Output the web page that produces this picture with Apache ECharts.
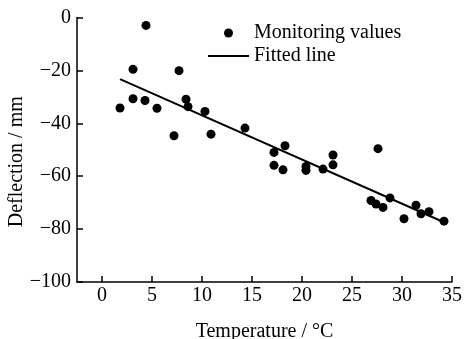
<!DOCTYPE html>
<html>
<head>
<meta charset="utf-8">
<script src="https://cdn.jsdelivr.net/npm/echarts@6/dist/echarts.min.js"></script>
<style>
  html, body { margin: 0; padding: 0; background: #fff; }
  #chart { width: 464px; height: 339px; }
</style>
</head>
<body>
<div id="chart"></div>
<script>
// measured points: temperature (°C) and deflection (mm)
const temperature = [1.8, 3.1, 3.1, 4.3, 4.4, 5.5, 7.2, 7.7, 8.4, 8.6, 10.3, 10.9, 14.3,
  17.2, 17.2, 18.1, 18.3, 20.4, 20.4, 22.1, 23.1, 23.1, 26.9, 27.4, 27.6, 28.1,
  28.8, 30.2, 31.4, 31.9, 32.7, 34.2];
const deflection = [-34.2, -19.6, -30.7, -31.4, -3.0, -34.3, -44.7, -20.1, -30.9, -33.7, -35.5, -44.1, -41.8,
  -51.0, -55.9, -57.6, -48.5, -56.3, -57.8, -57.3, -52.0, -55.7, -69.2, -70.5, -49.6, -71.8,
  -68.2, -76.1, -71.0, -74.2, -73.4, -77.0];
// fitted line end points
const fitX = [1.8, 34.2];
const fitY = [-23.3, -77.4];
const xTicks = [0, 5, 10, 15, 20, 25, 30, 35];

const font = "'Liberation Serif', 'Times New Roman', serif";
const chart = echarts.init(document.getElementById('chart'));

const option = {
  animation: false,
  textStyle: { fontFamily: font, color: '#000' },
  grid: { left: 77, right: 12, top: 17.5, bottom: 57, outerBoundsMode: 'none' },
  legend: {
    orient: 'vertical',
    left: 202,
    top: 18,
    itemWidth: 41,
    itemHeight: 9,
    itemGap: 3,
    textStyle: { fontFamily: font, fontSize: 20, color: '#000' },
    data: [
      { name: 'Monitoring values' },
      { name: 'Fitted line', itemStyle: { opacity: 0 } }
    ]
  },
  xAxis: {
    type: 'value',
    min: -2.5,
    max: 35,
    name: 'Temperature / °C',
    nameLocation: 'middle',
    nameGap: 40,
    nameMoveOverlap: false,
    nameTextStyle: { fontFamily: font, fontSize: 20, color: '#000' },
    splitLine: { show: false },
    axisLine: { show: true, onZero: false, lineStyle: { color: '#000', width: 1.5 } },
    axisTick: { show: true, inside: true, length: 6, customValues: xTicks, lineStyle: { color: '#000', width: 1.5 } },
    axisLabel: { customValues: xTicks, margin: 4, fontFamily: font, fontSize: 20, color: '#000' }
  },
  yAxis: {
    type: 'value',
    min: -100,
    max: 0,
    interval: 20,
    name: 'Deflection / mm',
    nameLocation: 'middle',
    nameGap: 50,
    nameMoveOverlap: false,
    nameTextStyle: { fontFamily: font, fontSize: 20, color: '#000', padding: [0, 24, 0, 0] },
    splitLine: { show: false },
    axisLine: { show: true, onZero: false, lineStyle: { color: '#000', width: 1.5 } },
    axisTick: { show: true, inside: true, length: 6, lineStyle: { color: '#000', width: 1.5 } },
    axisLabel: {
      margin: 6, fontFamily: font, fontSize: 20, color: '#000',
      formatter: v => String(v).replace('-', '\u2212')
    }
  },
  series: [
    {
      name: 'Monitoring values',
      type: 'scatter',
      symbol: 'circle',
      symbolSize: 9,
      itemStyle: { color: '#000', opacity: 1 },
      data: temperature.map((t, i) => [t, deflection[i]]),
      z: 3
    },
    {
      name: 'Fitted line',
      type: 'line',
      symbol: 'none',
      lineStyle: { color: '#000', width: 2 },
      itemStyle: { color: '#000' },
      data: fitX.map((t, i) => [t, fitY[i]]),
      z: 2
    }
  ]
};
chart.setOption(option);
</script>
</body>
</html>
